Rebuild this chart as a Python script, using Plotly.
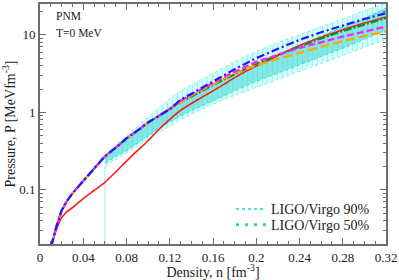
import plotly.graph_objects as go

# ---- data ----
n_red = [0.0105, 0.015, 0.0185, 0.024, 0.03, 0.04, 0.05, 0.06, 0.07, 0.08, 0.09, 0.10, 0.11, 0.12, 0.13,
         0.14, 0.15, 0.16, 0.17, 0.18, 0.19, 0.20, 0.21, 0.22, 0.23, 0.24, 0.26, 0.28, 0.30, 0.32]
p_red = [0.019, 0.03, 0.040, 0.051, 0.059, 0.077, 0.098, 0.125, 0.17, 0.235, 0.32, 0.43, 0.60, 0.81, 1.06,
         1.30, 1.57, 1.89, 2.3, 2.8, 3.35, 3.95, 4.6, 5.4, 6.3, 7.3, 9.3, 11.6, 14.2, 17.0]

n_common = [0.0105, 0.015, 0.02, 0.025, 0.03, 0.04, 0.05, 0.06, 0.07, 0.08, 0.09, 0.10, 0.11, 0.12]
p_common = [0.019, 0.033, 0.054, 0.072, 0.09, 0.13, 0.19, 0.27, 0.35, 0.46, 0.58, 0.74, 0.9, 1.1]

n_high = [0.13, 0.14, 0.15, 0.16, 0.17, 0.18, 0.19, 0.20, 0.22, 0.24, 0.26, 0.28, 0.30, 0.32]
p_blue = [1.45, 1.75, 2.1, 2.5, 3.0, 3.6, 4.2, 5.0, 6.6, 8.6, 10.8, 13.2, 16.0, 19.0]
p_magenta = [1.42, 1.7, 2.0, 2.4, 2.85, 3.35, 3.9, 4.5, 5.5, 6.8, 8.0, 9.5, 11.0, 12.8]
p_green = [1.35, 1.6, 1.9, 2.25, 2.65, 3.1, 3.6, 4.2, 5.5, 7.1, 9.0, 11.2, 13.6, 16.5]
p_orange = [1.38, 1.65, 1.95, 2.3, 2.75, 3.2, 3.6, 4.05, 4.9, 5.9, 7.0, 8.3, 9.6, 11.1]

n_band = [0.06, 0.07, 0.08, 0.09, 0.10, 0.11, 0.12, 0.13, 0.14, 0.15, 0.16, 0.18, 0.20, 0.22,
          0.24, 0.26, 0.28, 0.30, 0.32]
p90_hi = [0.28, 0.38, 0.50, 0.66, 0.88, 1.15, 1.5, 1.9, 2.25, 2.65, 3.2, 4.5, 6.1, 8.0,
          10.0, 12.8, 16.3, 20.5, 26.0]
p90_lo = [0.20, 0.245, 0.30, 0.37, 0.45, 0.55, 0.66, 0.80, 0.94, 1.1, 1.27, 1.66, 2.1, 2.65,
          3.3, 4.2, 5.4, 6.9, 8.7]
p50_hi = [0.26, 0.33, 0.43, 0.56, 0.72, 0.92, 1.15, 1.42, 1.7, 2.0, 2.3, 3.1, 4.2, 5.6,
          7.4, 9.6, 12.5, 16.5, 22.0]
p50_lo = [0.22, 0.27, 0.32, 0.40, 0.50, 0.62, 0.75, 0.90, 1.05, 1.2, 1.4, 1.9, 2.5, 3.2,
          4.1, 5.2, 6.7, 8.8, 11.5]

x_ticks = [0, 0.04, 0.08, 0.12, 0.16, 0.2, 0.24, 0.28, 0.32]
x_ticklabels = ["0", "0.04", "0.08", "0.12", "0.16", "0.2", "0.24", "0.28", "0.32"]
y_ticks = [0.1, 1, 10]
y_ticklabels = ["0.1", "1", "10"]

FONT = "Liberation Serif, Times New Roman, serif"
C90 = "#7ff0f0"
C50 = "#40d8d0"

fig = go.Figure()

# 90% band
fig.add_trace(go.Scatter(x=n_band, y=p90_lo, mode="lines", line=dict(color=C90, width=1, dash="dot"),
                         showlegend=False, hoverinfo="skip"))
fig.add_trace(go.Scatter(x=n_band, y=p90_hi, mode="lines", line=dict(color=C90, width=1, dash="dot"),
                         fill="tonexty", fillcolor="rgba(150,245,245,0.55)",
                         fillpattern=dict(shape="|", fgcolor="#70ecec", bgcolor="rgba(185,250,250,0.6)",
                                          size=5, solidity=0.2),
                         showlegend=False, hoverinfo="skip"))
# 50% band
fig.add_trace(go.Scatter(x=n_band, y=p50_lo, mode="lines", line=dict(color=C50, width=1, dash="dot"),
                         showlegend=False, hoverinfo="skip"))
fig.add_trace(go.Scatter(x=n_band, y=p50_hi, mode="lines", line=dict(color=C50, width=1, dash="dot"),
                         fill="tonexty", fillcolor="rgba(64,214,205,0.55)",
                         showlegend=False, hoverinfo="skip"))
# thin vertical line at band start
fig.add_trace(go.Scatter(x=[n_band[0], n_band[0]], y=[0.015, p90_lo[0]], mode="lines",
                         line=dict(color="#a0f0f0", width=1), showlegend=False, hoverinfo="skip"))

# curves
fig.add_trace(go.Scatter(x=n_red, y=p_red, mode="lines", line=dict(color="#ff1a1a", width=1.6, shape="spline", smoothing=0.6),
                         showlegend=False))
fig.add_trace(go.Scatter(x=n_common + n_high, y=p_common + p_green, mode="lines",
                         line=dict(color="#1a8a1a", width=2.2, dash="8px,2px,2px,2px"), showlegend=False))
fig.add_trace(go.Scatter(x=n_common + n_high, y=p_common + p_orange, mode="lines",
                         line=dict(color="#ffa500", width=2.2, dash="9px,4px"), showlegend=False))
fig.add_trace(go.Scatter(x=n_common + n_high, y=p_common + p_magenta, mode="lines",
                         line=dict(color="#ff22ff", width=2.2, dash="7px,3px"), showlegend=False))
fig.add_trace(go.Scatter(x=n_common + n_high, y=p_common + p_blue, mode="lines",
                         line=dict(color="#1a1aff", width=2.2, dash="8px,3px,2px,3px"), showlegend=False))

# legend-only entries (each in its own legend box for exact placement)
fig.add_trace(go.Scatter(x=[None], y=[None], mode="lines", name="LIGO/Virgo 90%", legend="legend",
                         line=dict(color="#40e8e8", width=2, dash="dot")))
fig.add_trace(go.Scatter(x=[None], y=[None], mode="lines", name="LIGO/Virgo 50%", legend="legend2",
                         line=dict(color="#30d0c8", width=3, dash="3px,6px")))

y_minor = [v * m for v in (0.01, 0.1, 1, 10) for m in range(2, 10)]

axis_common = dict(showline=True, linecolor="#6e6e6e", linewidth=2, mirror="ticks",
                   ticks="inside", ticklen=6, tickcolor="#6e6e6e", tickwidth=1,
                   showgrid=False, zeroline=False,
                   tickfont=dict(family=FONT, size=13, color="#222"))

fig.update_xaxes(range=[0, 0.32], tickvals=x_ticks, ticktext=x_ticklabels,
                 minor=dict(ticks="inside", ticklen=3, dtick=0.01, tickcolor="#6e6e6e", showgrid=False),
                 title=dict(text="Density, n [fm<sup>-3</sup>]", font=dict(family=FONT, size=14, color="#222"),
                            standoff=4),
                 **axis_common)
fig.update_yaxes(type="log", range=[-1.699, 1.398], tickvals=y_ticks, ticktext=y_ticklabels,
                 minor=dict(ticks="inside", ticklen=3, tickvals=y_minor, tickcolor="#6e6e6e", showgrid=False),
                 title=dict(text="Pressure, P [MeVfm<sup>-3</sup>]", font=dict(family=FONT, size=14, color="#222"),
                            standoff=4),
                 **axis_common)

fig.add_annotation(x=0.04, y=0.950, xref="paper", yref="paper", xanchor="left", yanchor="middle",
                   text="PNM", showarrow=False, font=dict(family=FONT, size=11.5, color="#222"))
fig.add_annotation(x=0.04, y=0.880, xref="paper", yref="paper", xanchor="left", yanchor="middle",
                   text="T=0 MeV", showarrow=False, font=dict(family=FONT, size=11.5, color="#222"))

leg_common = dict(xanchor="left", yanchor="middle", bgcolor="rgba(0,0,0,0)",
                  font=dict(family=FONT, size=14, color="#222"))
fig.update_layout(
    width=399, height=280,
    margin=dict(l=40, r=13, t=2, b=36),
    paper_bgcolor="white", plot_bgcolor="white",
    legend=dict(x=0.552, y=0.1446, **leg_common),
    legend2=dict(x=0.552, y=0.0785, **leg_common),
    showlegend=True,
)

fig.write_html("out.html", config={"displayModeBar": False},
               post_script="document.body.style.margin='0';document.body.style.padding='0';")
